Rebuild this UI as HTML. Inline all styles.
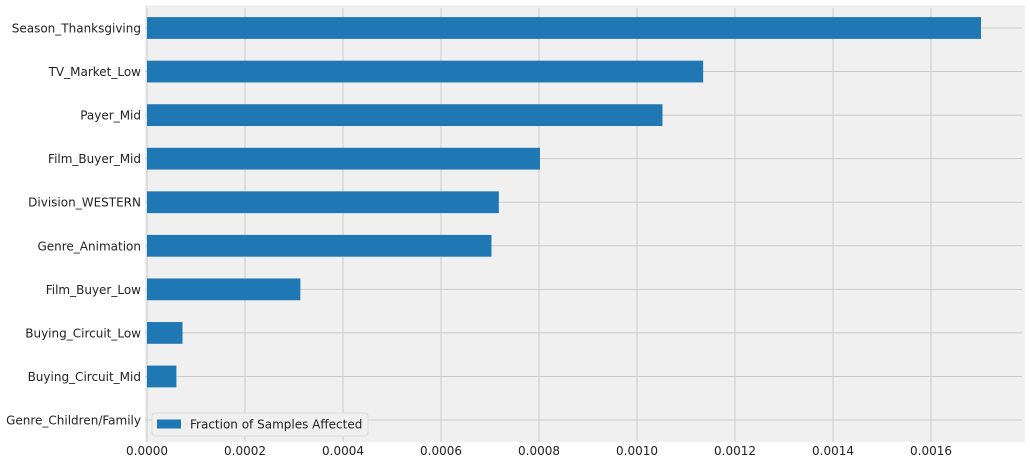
<!DOCTYPE html>
<html><head><meta charset="utf-8"><style>
body{margin:0;background:#fff;}
svg{display:block;font-family:"DejaVu Sans","Liberation Sans",sans-serif;}
</style></head><body>
<svg id="c" width="1030" height="465"></svg>
<script>
const categories=["Season_Thanksgiving","TV_Market_Low","Payer_Mid","Film_Buyer_Mid","Division_WESTERN","Genre_Animation","Film_Buyer_Low","Buying_Circuit_Low","Buying_Circuit_Mid","Genre_Children/Family"];
const values=[0.001702,0.001135,0.001052,0.000802,0.000718,0.000703,0.000313,0.0000725,0.0000600,0];
const xTicks=[0,0.0002,0.0004,0.0006,0.0008,0.0010,0.0012,0.0014,0.0016];
const xTickLabels=["0.0000","0.0002","0.0004","0.0006","0.0008","0.0010","0.0012","0.0014","0.0016"];
const ns="http://www.w3.org/2000/svg";
const svg=document.getElementById('c');
const L=145,R=1025,T=5,B=442;
const x=v=>147+v/0.0002*98;
const step=43.56;
const y=i=>28+step*i;
function mk(t,a,p){const e=document.createElementNS(ns,t);for(const k in a)e.setAttribute(k,a[k]);(p||svg).appendChild(e);return e;}
const bg=mk('rect',{x:L,y:T,width:R-L,height:B-T,fill:'#f0f0f0'});


xTicks.forEach((t,i)=>{
  const g=mk('line',{x1:x(t),x2:x(t),y1:T+3,y2:B,stroke:'#cbcbcb','stroke-width':1});
  
  
  const lb=mk('text',{x:x(t),y:455,'text-anchor':'middle','font-size':12,fill:'#222'});
  lb.textContent=xTickLabels[i];
  
  
});
categories.forEach((c,i)=>{
  const g=mk('line',{x1:L,x2:R-3,y1:y(i),y2:y(i),stroke:'#cbcbcb','stroke-width':1});
  
  
});
categories.forEach((c,i)=>{
  const b=mk('rect',{x:x(0),y:y(i)-step/4,width:x(values[i])-x(0),height:step/2,fill:'#1f77b4'});
  
  
  const lb=mk('text',{x:141,y:y(i)+4.5,'text-anchor':'end','font-size':12,fill:'#222'});
  lb.textContent=c;
  
  
});
const lg=mk('g',{});


mk('rect',{x:152,y:413,width:216,height:23,rx:3,fill:'#f0f0f0',stroke:'#dcdcdc'},lg);
mk('rect',{x:157,y:419.5,width:24,height:9,fill:'#1f77b4'},lg);
const lt=mk('text',{x:190,y:428.5,'font-size':12,fill:'#222'},lg);
lt.textContent="Fraction of Samples Affected";


</script>
</body></html>
